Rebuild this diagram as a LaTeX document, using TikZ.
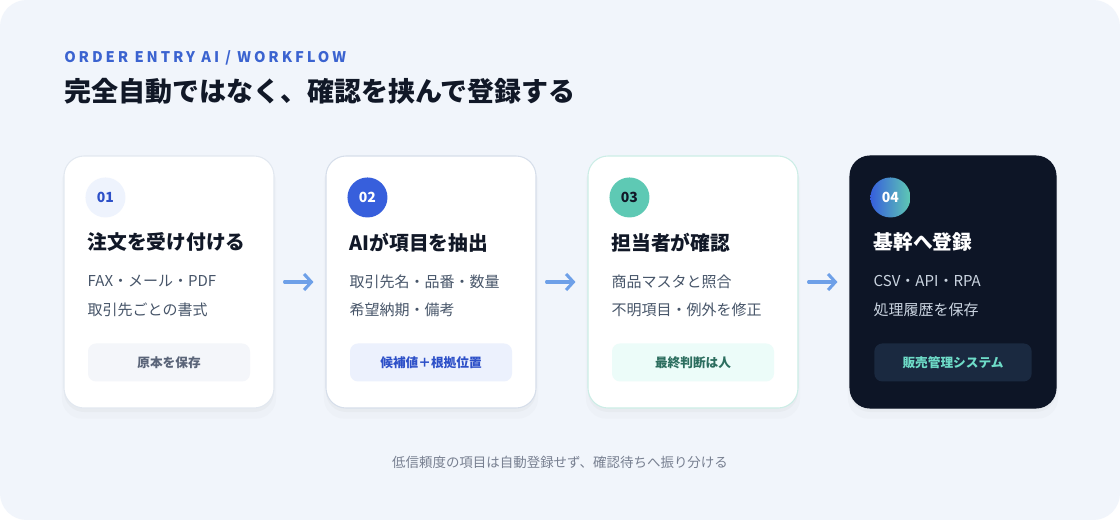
\documentclass[tikz,border=0pt]{standalone}
\usepackage{fontspec}
\setmainfont{Noto Sans CJK JP}
\newfontfamily\eyebrowfont{Noto Sans CJK JP}[LetterSpace=20]
\usepackage{xcolor}
\definecolor{pagebg}{RGB}{241, 245, 251}
\definecolor{ink}{RGB}{17, 24, 39}
\definecolor{accentblue}{RGB}{59, 99, 208}
\definecolor{bodygray}{RGB}{71, 85, 105}
\definecolor{cardline}{RGB}{226, 232, 240}
\definecolor{cardlineblue}{RGB}{214, 222, 234}
\definecolor{cardlineteal}{RGB}{204, 237, 230}
\definecolor{badgepale}{RGB}{238, 243, 253}
\definecolor{badgeblue}{RGB}{55, 95, 220}
\definecolor{badgeteal}{RGB}{94, 201, 180}
\definecolor{navy}{RGB}{13, 21, 38}
\definecolor{navypill}{RGB}{26, 41, 64}
\definecolor{mint}{RGB}{110, 220, 200}
\definecolor{navytext}{RGB}{203, 213, 225}
\definecolor{pillgray}{RGB}{244, 246, 250}
\definecolor{pillgraytext}{RGB}{90, 100, 120}
\definecolor{pillblue}{RGB}{236, 241, 253}
\definecolor{pillbluetext}{RGB}{45, 80, 200}
\definecolor{pillteal}{RGB}{236, 252, 249}
\definecolor{pilltealtext}{RGB}{44, 110, 95}
\definecolor{flowblue}{RGB}{110, 160, 232}
\definecolor{footgray}{RGB}{120, 128, 145}
\usetikzlibrary{positioning,calc,arrows.meta,shadows}
\tikzset{
  card/.style={fill=white,draw=cardline,line width=0.8pt,rounded corners=15pt,
    minimum width=157.5pt,minimum height=189pt,inner sep=0pt,
    drop shadow={opacity=0.03,shadow xshift=0pt,shadow yshift=-6pt,shadow scale=1.02},
    drop shadow={opacity=0.05,shadow xshift=0pt,shadow yshift=-3pt}},
  badge/.style={circle,minimum size=30pt,inner sep=0pt,
    font=\fontsize{10.5}{11}\selectfont\bfseries},
  cardtitle/.style={anchor=west,inner sep=0pt,text=ink,
    font=\fontsize{14.8}{16}\selectfont\bfseries},
  cardtext/.style={anchor=west,inner sep=0pt,text=bodygray,
    font=\fontsize{11.25}{13}\selectfont},
  pill/.style={rounded corners=6pt,minimum width=121.5pt,minimum height=28.5pt,
    inner sep=0pt,font=\fontsize{9.5}{11}\selectfont\bfseries},
  flow/.style={draw=flowblue,line width=2.3pt,line cap=round,
    shorten <=7.5pt,shorten >=9pt,-{Straight Barb[length=5.5pt,width=12pt]}}
}

\begin{document}
\begin{tikzpicture}[x=0.75pt,y=-0.75pt]
  \useasboundingbox (0,0) rectangle (1120,520);
  \fill[white] (0,0) rectangle (1120,520);
  \fill[pagebg,rounded corners=20pt] (0,0) rectangle (1120,520);

  % header
  \node[anchor=west,inner sep=0pt,text=accentblue,
    font=\eyebrowfont\fontsize{11}{12}\selectfont\bfseries] (eyebrow) at (64,58)
    {ORDER ENTRY AI / WORKFLOW};
  \node[anchor=west,inner sep=0pt,text=ink,
    font=\fontsize{20.25}{24}\selectfont\bfseries] (headline) at (64,91)
    {完全自動ではなく、確認を挟んで登録する};

  % cards
  \node[card] (c1) at (169,282) {};
  \node[card,draw=cardlineblue] (c2) at (431,282) {};
  \node[card,draw=cardlineteal] (c3) at (693,282) {};
  \node[card,fill=navy,draw=navy,minimum width=154.5pt] (c4) at (953,282) {};

  % 01
  \node[badge,fill=badgepale,text=pillbluetext] (b1) at ($(c1.north west)+(42,42)$) {01};
  \node[cardtitle] (t1) at ($(c1.north west)+(24,87)$) {注文を受け付ける};
  \node[cardtext] (l1a) at ($(c1.north west)+(24,126)$) {FAX・メール・PDF};
  \node[cardtext] (l1b) at ($(c1.north west)+(24,154)$) {取引先ごとの書式};
  \node[pill,fill=pillgray,text=pillgraytext] (p1) at ($(c1.north)+(0,207)$) {原本を保存};

  % 02
  \node[badge,fill=badgeblue,text=white] (b2) at ($(c2.north west)+(42,42)$) {02};
  \node[cardtitle] (t2) at ($(c2.north west)+(24,87)$) {AIが項目を抽出};
  \node[cardtext] (l2a) at ($(c2.north west)+(24,126)$) {取引先名・品番・数量};
  \node[cardtext] (l2b) at ($(c2.north west)+(24,154)$) {希望納期・備考};
  \node[pill,fill=pillblue,text=pillbluetext] (p2) at ($(c2.north)+(0,207)$) {候補値＋根拠位置};

  % 03
  \node[badge,fill=badgeteal,text=ink] (b3) at ($(c3.north west)+(42,42)$) {03};
  \node[cardtitle] (t3) at ($(c3.north west)+(24,87)$) {担当者が確認};
  \node[cardtext] (l3a) at ($(c3.north west)+(24,126)$) {商品マスタと照合};
  \node[cardtext] (l3b) at ($(c3.north west)+(24,154)$) {不明項目・例外を修正};
  \node[pill,fill=pillteal,text=pilltealtext] (p3) at ($(c3.north)+(0,207)$) {最終判断は人};

  % 04
  \node[badge,left color=badgeblue,right color=badgeteal,text=white] (b4)
    at ($(c4.north west)+(41,42)$) {04};
  \node[cardtitle,text=white] (t4) at ($(c4.north west)+(24,87)$) {基幹へ登録};
  \node[cardtext,text=navytext] (l4a) at ($(c4.north west)+(24,126)$) {CSV・API・RPA};
  \node[cardtext,text=navytext] (l4b) at ($(c4.north west)+(24,154)$) {処理履歴を保存};
  \node[pill,fill=navypill,text=mint,minimum width=118pt] (p4) at ($(c4.north)+(0,207)$) {販売管理システム};

  % arrows
  \draw[flow] (c1) -- (c2);
  \draw[flow] (c2) -- (c3);
  \draw[flow] (c3) -- (c4);

  \node[inner sep=0pt,text=footgray,font=\fontsize{10.1}{12}\selectfont] (foot) at (560,462)
    {低信頼度の項目は自動登録せず、確認待ちへ振り分ける};
\end{tikzpicture}
\end{document}
